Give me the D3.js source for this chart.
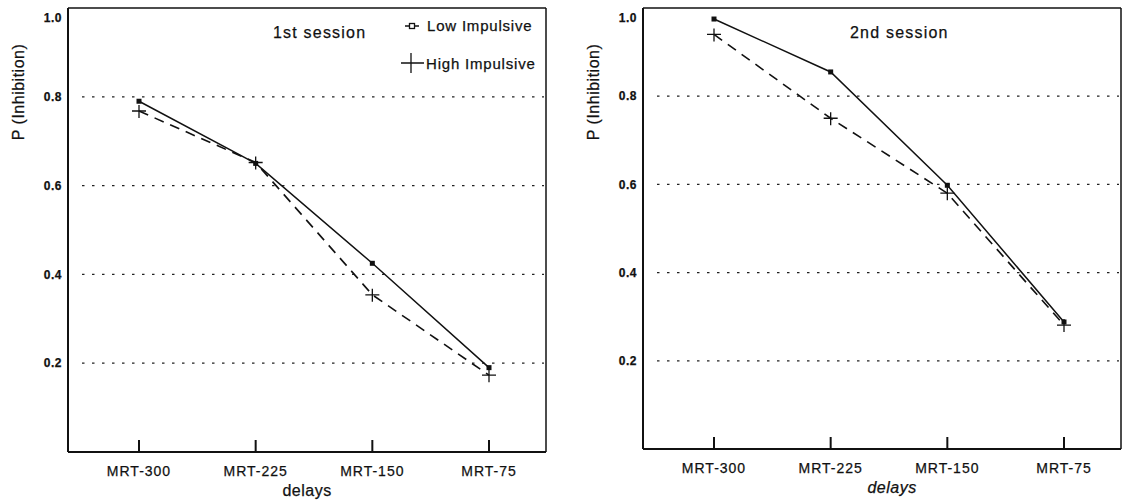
<!DOCTYPE html>
<html>
<head>
<meta charset="utf-8">
<script src="https://cdn.jsdelivr.net/npm/d3@7"></script>
<style>
  body { margin: 0; background: #fff; }
  text { font-family: "Liberation Sans", Arial, Helvetica, sans-serif; fill: #111; stroke: #111; stroke-width: 0.25px; }
</style>
</head>
<body>
<script>
"use strict";
// categories on the x axis
const delays = ["MRT-300", "MRT-225", "MRT-150", "MRT-75"]
// P(Inhibition) per delay
const s1Low = [0.79, 0.65, 0.425, 0.19]
const s1High = [0.768, 0.652, 0.354, 0.173]
const s2Low = [0.975, 0.855, 0.598, 0.288]
const s2High = [0.94, 0.75, 0.58, 0.281]
const yTicks = [0.2, 0.4, 0.6, 0.8, 1.0]
const gridTicks = [0.2, 0.4, 0.6, 0.8]

;(function(){
  const svg = d3.select("body").append("svg")
      .attr("width", 1123)
      .attr("height", 502)

  function drawPanel(p) {
    const g = svg.append("g")
    let x = d3.scalePoint()
        .domain(delays)
        .range([p.left + 71, p.right - 57])
    let y = d3.scaleLinear()
        .domain([0, 1])
        .range([p.bottom, p.top])

    // dotted grid
    g.selectAll(".grid")
      .data(gridTicks)
      .enter()
      .append("line")
        .attr("x1", p.left + 14)
        .attr("x2", p.right - 2)
        .attr("y1", d => y(d))
        .attr("y2", d => y(d))
        .attr("stroke", "#222")
        .attr("stroke-width", 1.3)
        .attr("stroke-dasharray", "2.5,7.5")

    // frame
    g.append("line").attr("x1", p.left).attr("x2", p.right).attr("y1", p.top).attr("y2", p.top)
      .attr("stroke", "#111").attr("stroke-width", 1.5)
    g.append("line").attr("x1", p.right).attr("x2", p.right).attr("y1", p.top).attr("y2", p.bottom)
      .attr("stroke", "#111").attr("stroke-width", 1.5)
    g.append("line").attr("x1", p.left).attr("x2", p.left).attr("y1", p.top).attr("y2", p.bottom)
      .attr("stroke", "#111").attr("stroke-width", 2)
    g.append("line").attr("x1", p.left).attr("x2", p.right).attr("y1", p.bottom).attr("y2", p.bottom)
      .attr("stroke", "#111").attr("stroke-width", 2)

    // y tick labels
    g.selectAll(".ytick")
      .data(yTicks)
      .enter()
      .append("text")
        .attr("x", p.left - 6)
        .attr("y", d => Math.max(y(d), p.top + 10))
        .attr("dy", "0.35em")
        .attr("text-anchor", "end")
        .attr("font-size", "12px")
        .attr("font-weight", "bold")
        .attr("letter-spacing", "0.5px")
        .text(d => d3.format(".1f")(d))

    // x ticks (inward) and labels
    g.selectAll(".xtick")
      .data(delays)
      .enter()
      .append("line")
        .attr("x1", d => x(d))
        .attr("x2", d => x(d))
        .attr("y1", p.bottom)
        .attr("y2", p.bottom - 12)
        .attr("stroke", "#111")
        .attr("stroke-width", 2)
    g.selectAll(".xlabel")
      .data(delays)
      .enter()
      .append("text")
        .attr("x", d => x(d))
        .attr("y", p.bottom + 24)
        .attr("text-anchor", "middle")
        .attr("font-size", "14px")
        .attr("letter-spacing", "1px")
        .text(d => d)

    g.append("text")
      .attr("x", (p.left + p.right) / 2 + p.xTitleShift)
      .attr("y", p.bottom + 44)
      .attr("text-anchor", "middle")
      .attr("font-size", "16px")
      .attr("font-style", p.italic ? "italic" : "normal")
      .attr("letter-spacing", "0.5px")
      .text("delays")

    g.append("text")
      .attr("transform", "translate(" + (p.left - 50) + ",92) rotate(-90)")
      .attr("text-anchor", "middle")
      .attr("dy", "0.35em")
      .attr("font-size", "16px")
      .attr("letter-spacing", "0.5px")
      .text("P (Inhibition)")

    g.append("text")
      .attr("x", p.titleX)
      .attr("y", 38)
      .attr("font-size", "16px")
      .attr("letter-spacing", "1.2px")
      .text(p.title)

    const line = d3.line()
        .x((d, i) => x(delays[i]))
        .y(d => y(d))

    g.append("path")
      .datum(p.low)
      .attr("d", line)
      .attr("fill", "none")
      .attr("stroke", "#111")
      .attr("stroke-width", 1.5)
    g.append("path")
      .datum(p.high)
      .attr("d", line)
      .attr("fill", "none")
      .attr("stroke", "#111")
      .attr("stroke-width", 1.6)
      .attr("stroke-dasharray", "10,7")

    g.selectAll(".lowpt")
      .data(p.low)
      .enter()
      .append("rect")
        .attr("x", (d, i) => x(delays[i]) - 2.5)
        .attr("y", d => y(d) - 2.5)
        .attr("width", 5)
        .attr("height", 5)
        .attr("fill", "#111")

    g.selectAll(".highpt")
      .data(p.high)
      .enter()
      .append("path")
        .attr("d", (d, i) => {
          let cx = x(delays[i]), cy = y(d)
          return "M" + (cx - 7) + "," + cy + "H" + (cx + 7) + "M" + cx + "," + (cy - 6) + "V" + (cy + 7)
        })
        .attr("stroke", "#111")
        .attr("stroke-width", 1.3)
        .attr("fill", "none")

    if (p.legend) {
      let lg = g.append("g")
      lg.append("line").attr("x1", 405).attr("x2", 419).attr("y1", 26).attr("y2", 26)
        .attr("stroke", "#111").attr("stroke-width", 1.5)
      lg.append("rect").attr("x", 409.5).attr("y", 23.5).attr("width", 5).attr("height", 5)
        .attr("fill", "#fff").attr("stroke", "#111").attr("stroke-width", 1.3)
      lg.append("text").attr("x", 427).attr("y", 31).attr("font-size", "15px")
        .attr("letter-spacing", "0.8px").text("Low Impulsive")
      lg.append("path").attr("d", "M401,63H424M411,53V73")
        .attr("stroke", "#111").attr("stroke-width", 1.3)
      lg.append("text").attr("x", 426).attr("y", 69).attr("font-size", "15px")
        .attr("letter-spacing", "0.8px").text("High Impulsive")
    }
  }

  drawPanel({left: 68, right: 546, top: 8, bottom: 452, low: s1Low, high: s1High,
    title: "1st session", titleX: 273, legend: true, italic: false, xTitleShift: 0})
  drawPanel({left: 643, right: 1121, top: 8, bottom: 449, low: s2Low, high: s2High,
    title: "2nd session", titleX: 850, legend: false, italic: true, xTitleShift: 10})
})();
</script>
</body>
</html>
